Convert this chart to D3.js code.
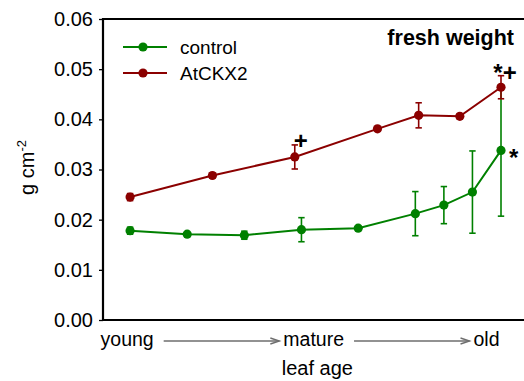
<!DOCTYPE html>
<html>
<head>
<meta charset="utf-8">
<script src="https://cdn.jsdelivr.net/npm/d3@7"></script>
<style>
  body { margin: 0; background: #fff; }
  text { font-family: "Liberation Sans", Arial, sans-serif; }
</style>
</head>
<body>
<div id="my_dataviz"></div>
<script>
// relative leaf age (young = 0, old = 1) and fresh weight per area
var controlAge  = [0, 0.154, 0.308, 0.462, 0.615, 0.769, 0.846, 0.923, 1];
var controlMean = [0.0178, 0.0171, 0.0169, 0.0180, 0.0183, 0.0212, 0.0229, 0.0255, 0.0338];
var controlErr  = [0.0007, 0.0003, 0.0008, 0.0024, 0.0004, 0.0044, 0.0037, 0.0082, 0.0131];

var ckxAge  = [0, 0.222, 0.444, 0.667, 0.778, 0.889, 1];
var ckxMean = [0.0245, 0.0288, 0.0325, 0.0381, 0.0408, 0.0406, 0.0464];
var ckxErr  = [0.0007, 0.0005, 0.0024, 0.0004, 0.0025, 0.0005, 0.0023];

var yTicks = [0, 0.01, 0.02, 0.03, 0.04, 0.05, 0.06];
var xLabels = ["young", "mature", "old"];
var xLabelAt = [-0.008, 0.495, 0.961];

var seriesNames = ["control", "AtCKX2"];
var seriesColors = ["#008000", "#8b0000"];

// significance marks: series index, point index, text
var marks = [
  {s: 1, i: 2, t: "+"},
  {s: 1, i: 6, t: "*+"},
  {s: 0, i: 8, t: "*"}
];

// set the dimensions and margins of the graph
var margin = {top: 19, right: 0, bottom: 61, left: 103},
    width = 524 - margin.left - margin.right,
    height = 381 - margin.top - margin.bottom;

var svg = d3.select("#my_dataviz")
  .append("svg")
    .attr("width", 524)
    .attr("height", 381)
  .append("g")
    .attr("transform", "translate(" + margin.left + "," + margin.top + ")");

var x = d3.scaleLinear()
  .domain([-0.073, 1.062])
  .range([0, width]);

var y = d3.scaleLinear()
  .domain([0, 0.06])
  .range([height, 0]);

// Y axis
var yAxis = svg.append("g")
  .call(d3.axisLeft(y).tickValues(yTicks).tickFormat(d3.format(".2f")).tickSize(4).tickPadding(6));
yAxis.select(".domain").remove();
yAxis.selectAll("line").attr("stroke", "#000").attr("stroke-width", 1.3);
yAxis.selectAll("text")
  .attr("font-size", "20px")
  .attr("fill", "#000")
  .attr("font-family", "Liberation Sans, Arial, sans-serif");

// frame: left, top and bottom
svg.append("path")
  .attr("d", "M" + width + ",0H0V" + height + "H" + width)
  .attr("fill", "none")
  .attr("stroke", "#000")
  .attr("stroke-width", 2.2);

// y label
var ylab = svg.append("text")
  .attr("transform", "translate(" + (-69) + "," + (height / 2 - 2) + ")rotate(-90)")
  .attr("text-anchor", "middle")
  .attr("font-size", "20px");
ylab.append("tspan").text("g cm");
ylab.append("tspan").attr("font-size", "13px").attr("dy", "-8").text("-2");

// x labels with arrows
var xl = svg.selectAll(".xlab")
  .data(xLabels)
  .enter()
  .append("text")
    .attr("class", "xlab")
    .attr("x", function(d, i) { return x(xLabelAt[i]); })
    .attr("y", height + 26)
    .attr("text-anchor", "middle")
    .attr("font-size", "19.5px")
    .text(function(d) { return d; });

var boxes = [];
xl.each(function() { boxes.push(this.getBBox()); });
for (var k = 0; k < boxes.length - 1; k++) {
  var x0 = boxes[k].x + boxes[k].width + 10,
      x1 = boxes[k + 1].x - 4,
      ay = height + 21;
  svg.append("line")
    .attr("x1", x0).attr("x2", x1)
    .attr("y1", ay).attr("y2", ay)
    .attr("stroke", "#6e6e6e")
    .attr("stroke-width", 1.6);
  svg.append("path")
    .attr("d", "M" + (x1 - 9) + "," + (ay - 3) + "L" + x1 + "," + ay + "L" + (x1 - 9) + "," + (ay + 3))
    .attr("fill", "none")
    .attr("stroke", "#6e6e6e")
    .attr("stroke-width", 1.4);
}

svg.append("text")
  .attr("x", x(0.505))
  .attr("y", height + 55)
  .attr("text-anchor", "middle")
  .attr("font-size", "20px")
  .text("leaf age");

// title
svg.append("text")
  .attr("x", width - 10)
  .attr("y", 26)
  .attr("text-anchor", "end")
  .attr("font-size", "21.5px")
  .attr("font-weight", "bold")
  .text("fresh weight");

// series
var series = [
  {age: controlAge, mean: controlMean, err: controlErr},
  {age: ckxAge, mean: ckxMean, err: ckxErr}
];

var line = d3.line()
  .x(function(d) { return x(d.a); })
  .y(function(d) { return y(d.m); });

series.forEach(function(s, si) {
  var data = s.age.map(function(a, i) { return {a: a, m: s.mean[i], e: s.err[i]}; });
  var col = seriesColors[si];
  var g = svg.append("g");

  g.append("path")
    .datum(data)
    .attr("d", line)
    .attr("fill", "none")
    .attr("stroke", col)
    .attr("stroke-width", 2);

  var eb = g.selectAll(".eb")
    .data(data)
    .enter()
    .append("g");
  eb.append("line")
    .attr("x1", function(d) { return x(d.a); })
    .attr("x2", function(d) { return x(d.a); })
    .attr("y1", function(d) { return y(d.m - d.e); })
    .attr("y2", function(d) { return y(d.m + d.e); })
    .attr("stroke", col)
    .attr("stroke-width", 1.6);
  [-1, 1].forEach(function(sg) {
    eb.append("line")
      .attr("x1", function(d) { return x(d.a) - 3.2; })
      .attr("x2", function(d) { return x(d.a) + 3.2; })
      .attr("y1", function(d) { return y(d.m + sg * d.e); })
      .attr("y2", function(d) { return y(d.m + sg * d.e); })
      .attr("stroke", col)
      .attr("stroke-width", 1.6);
  });

  g.selectAll("circle")
    .data(data)
    .enter()
    .append("circle")
      .attr("cx", function(d) { return x(d.a); })
      .attr("cy", function(d) { return y(d.m); })
      .attr("r", 4.6)
      .attr("fill", col);
});

// significance marks
marks.forEach(function(mk) {
  var s = series[mk.s];
  var px = x(s.age[mk.i]), py = y(s.mean[mk.i]);
  var t = svg.append("text")
    .attr("font-size", "24px")
    .text(mk.t);
  if (mk.t === "+") t.attr("x", px + 6).attr("y", py - 8).attr("text-anchor", "middle").attr("font-weight", "bold");
  else if (mk.t === "*+") t.attr("x", px + 4).attr("y", py - 6).attr("text-anchor", "middle").attr("font-weight", "bold");
  else t.attr("x", px + 8).attr("y", py + 16).attr("text-anchor", "start").attr("font-weight", "bold");
});

// legend
var legend = svg.selectAll(".legend")
  .data(seriesNames)
  .enter()
  .append("g")
    .attr("transform", function(d, i) { return "translate(20," + (28 + i * 26) + ")"; });
legend.append("line")
  .attr("x1", 0).attr("x2", 44)
  .attr("stroke", function(d, i) { return seriesColors[i]; })
  .attr("stroke-width", 2);
legend.append("circle")
  .attr("cx", 20)
  .attr("r", 4.6)
  .attr("fill", function(d, i) { return seriesColors[i]; });
legend.append("text")
  .attr("x", 57)
  .attr("y", 7)
  .attr("font-size", "19px")
  .text(function(d) { return d; });
</script>
</body>
</html>
